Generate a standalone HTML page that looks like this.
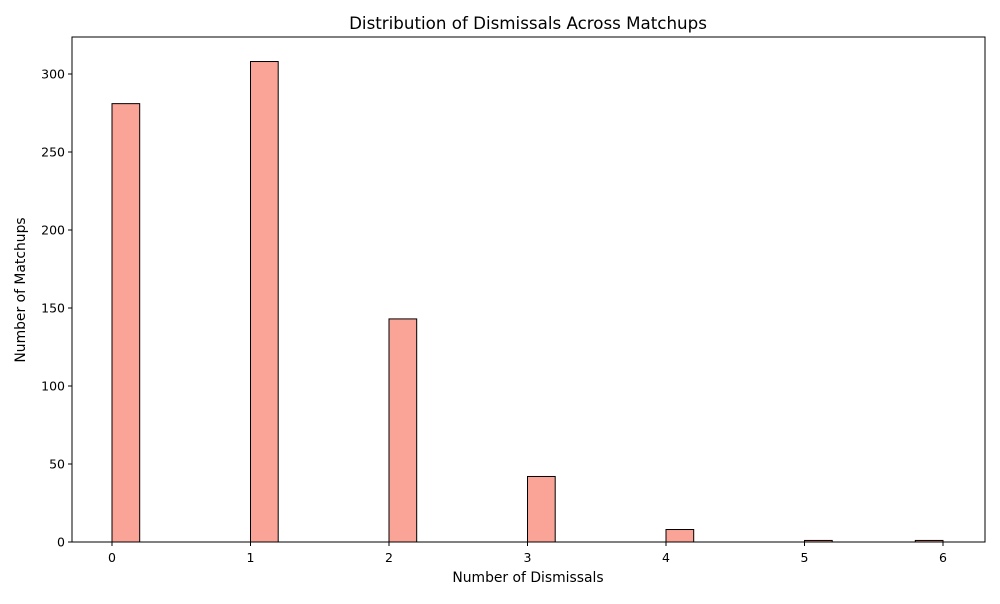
<!DOCTYPE html>
<html><head><meta charset="utf-8"><style>
body{margin:0;background:#fff;font-family:"DejaVu Sans","Liberation Sans",sans-serif;}
</style></head><body>
<svg id="chart" width="1000" height="600" xmlns="http://www.w3.org/2000/svg" font-family="DejaVu Sans, Liberation Sans, sans-serif">
<rect width="1000" height="600" fill="#fff"/>
<g id="bars"></g>
<g id="axes"></g>
<text x="528" y="29" text-anchor="middle" font-size="16.7">Distribution of Dismissals Across Matchups</text>
<text x="528" y="582" text-anchor="middle" font-size="13.9">Number of Dismissals</text>
<text transform="translate(25,290) rotate(-90)" text-anchor="middle" font-size="13.9">Number of Matchups</text>
</svg>
<script>
const binStarts=[0,1,2,3,4,5,5.8];
const counts=[281,308,143,42,8,1,1];
const binWidth=0.2;
const xTicks=[0,1,2,3,4,5,6];
const yTicks=[0,50,100,150,200,250,300];
const L=72,R=985,T=37,B=542;
function xs(v){return 112+v*(943-112)/6;}
function ys(v){return 542-v*(542-74)/300;}
const NS="http://www.w3.org/2000/svg";
const bars=document.getElementById('bars'),axes=document.getElementById('axes');
function mk(tag,attrs,parent){const e=document.createElementNS(NS,tag);for(const k in attrs)e.setAttribute(k,attrs[k]);parent.appendChild(e);return e;}
const base=mk('line',{x1:xs(0),x2:xs(6),y1:ys(0),y2:ys(0),stroke:'#000','stroke-width':1},bars);


binStarts.forEach((s,i)=>{
  const x0=xs(s),x1=xs(s+binWidth),y=ys(counts[i]);
  const r=mk('rect',{x:x0,y:y,width:x1-x0,height:ys(0)-y,fill:'#faa498',stroke:'#000','stroke-width':1},bars);
  
  
});
const frame=mk('rect',{x:L,y:T,width:R-L,height:B-T,fill:'none',stroke:'#000','stroke-width':1},axes);


xTicks.forEach(t=>{
  mk('line',{x1:xs(t),x2:xs(t),y1:B,y2:B+4,stroke:'#000'},axes);
  const tx=mk('text',{x:xs(t),y:B+20,'text-anchor':'middle','font-size':12.5},axes);
  tx.textContent=t;
  
  
});
yTicks.forEach(t=>{
  mk('line',{x1:L-4,x2:L,y1:ys(t),y2:ys(t),stroke:'#000'},axes);
  const tx=mk('text',{x:L-7,y:ys(t)+4.5,'text-anchor':'end','font-size':12.5},axes);
  tx.textContent=t;
  
  
});
</script>
</body></html>
